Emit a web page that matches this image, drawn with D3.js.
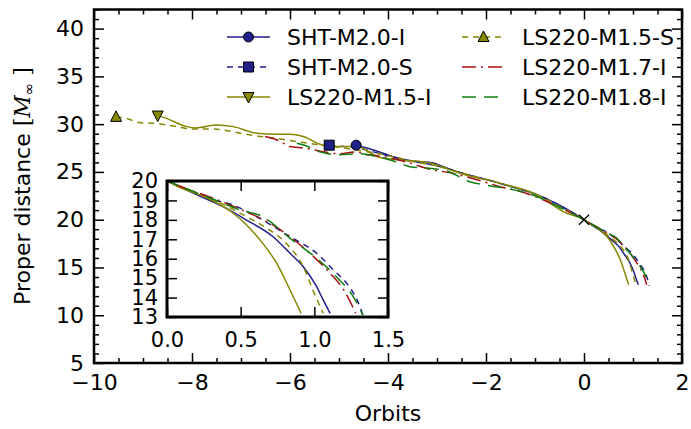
<!DOCTYPE html>
<html>
<head>
<meta charset="utf-8">
<script src="https://cdn.jsdelivr.net/npm/d3@7"></script>
<style>
  html, body { margin: 0; padding: 0; background: #fff; }
  svg { display: block; }
  text { font-family: "DejaVu Sans", sans-serif; fill: #000; }
</style>
</head>
<body>
<svg id="chart" width="691" height="429"></svg>
<script>
// Proper separation of the two stars against number of orbits before merger.
// Each run is a list of [orbits, distance] pairs.
const shtM20I = [[-4.65,27.8],[-4.43,27.5],[-4.1,26.96],[-3.76,26.4],[-3.41,26.08],[-3.1,25.95],[-2.88,25.55],[-2.39,24.7],[-1.99,24.2],[-1.58,23.6],[-1.04,22.77],[-0.49,21.5],[0,20.0],[0.1,19.65],[0.2,19.3],[0.38,18.68],[0.54,17.99],[0.72,17.13],[0.835,16.28],[0.925,15.59],[1.016,14.56],[1.06,13.88],[1.107,13.19]];
const shtM20S = [[-5.2,27.8],[-4.9,27.65],[-4.6,27.5],[-4.3,27.1],[-4.0,26.7],[-3.6,26.2],[-3.2,25.85],[-2.9,25.5],[-2.5,24.9],[-2.0,24.2],[-1.5,23.5],[-1.0,22.7],[-0.5,21.5],[0,20.0],[0.15,19.5],[0.3,19.05],[0.45,18.76],[0.61,18.16],[0.835,17.13],[1.016,16.28],[1.13,15.42],[1.22,14.73],[1.29,13.88],[1.33,13.1]];
const ls220M15I = [[-8.7,30.9],[-8.52,30.6],[-8.11,29.74],[-7.92,29.6],[-7.5,29.9],[-7.16,29.74],[-6.68,29.05],[-6.27,28.95],[-6.0,28.95],[-5.73,28.7],[-5.33,27.8],[-5.04,27.65],[-4.64,27.65],[-4.16,26.5],[-3.76,26.26],[-3.2,26.0],[-2.53,24.86],[-1.71,23.8],[-1.03,22.77],[-0.35,20.67],[0,20.0],[0.1,19.62],[0.25,19.2],[0.45,18.34],[0.54,17.74],[0.65,16.79],[0.745,15.76],[0.835,14.39],[0.91,13.19]];
const ls220M15S = [[-9.55,30.76],[-9.34,30.6],[-9.06,30.15],[-8.8,30.1],[-8.31,29.74],[-8.04,29.5],[-7.7,29.5],[-7.37,29.4],[-7.02,29.05],[-6.68,28.77],[-6.27,28.5],[-5.73,28.07],[-5.33,27.8],[-4.9,27.5],[-4.4,27.1],[-4.0,26.7],[-3.5,26.1],[-3.0,25.6],[-2.5,24.9],[-2.0,24.2],[-1.5,23.5],[-1.0,22.7],[-0.5,21.4],[0,20.0],[0.15,19.55],[0.3,19.1],[0.54,18.16],[0.677,17.57],[0.81,16.79],[0.925,15.59],[0.99,14.39],[1.06,13.19]];
const ls220M17I = [[-6.51,28.7],[-6.2,28.2],[-6.0,27.65],[-5.7,27.5],[-5.4,27.2],[-5.0,26.9],[-4.64,27.1],[-4.43,26.8],[-4.1,26.6],[-3.6,26.0],[-3.08,25.2],[-2.87,25.03],[-2.4,24.5],[-1.71,23.45],[-1.2,22.8],[-0.5,21.3],[0,20.0],[0.15,19.55],[0.3,19.15],[0.43,18.76],[0.56,18.34],[0.7,17.82],[0.835,17.13],[0.97,16.28],[1.107,15.25],[1.2,14.39],[1.265,13.45],[1.28,13.2]];
const ls220M18I = [[-5.86,28.0],[-5.6,27.6],[-5.39,27.1],[-4.98,26.8],[-4.6,26.9],[-4.2,26.6],[-3.8,26.0],[-3.55,25.55],[-3.21,25.4],[-2.8,25.1],[-2.33,23.98],[-1.99,23.6],[-1.5,23.2],[-1.0,22.5],[-0.5,21.3],[0,20.0],[0.15,19.55],[0.3,19.1],[0.5,18.5],[0.65,18.16],[0.835,17.05],[1.016,16.02],[1.15,15.07],[1.265,14.04],[1.33,13.1]];

const seriesLabels = ["SHT-M2.0-I", "SHT-M2.0-S", "LS220-M1.5-I", "LS220-M1.5-S", "LS220-M1.7-I", "LS220-M1.8-I"];
const seriesData = [shtM20I, shtM20S, ls220M15I, ls220M15S, ls220M17I, ls220M18I];
const mergerPoint = [0, 20];

const xTicks = [-10, -8, -6, -4, -2, 0, 2];
const yTicks = [5, 10, 15, 20, 25, 30, 35, 40];
const insetXTicks = [0.0, 0.5, 1.0, 1.5];
const insetYTicks = [13, 14, 15, 16, 17, 18, 19, 20];

// styles for each run
const styles = [
  { color: "#1f1f8a", dash: null,          marker: "circle" },
  { color: "#1f1f8a", dash: "6,5",         marker: "square" },
  { color: "#878700", dash: null,          marker: "triangleDown" },
  { color: "#878700", dash: "6,5",         marker: "triangleUp" },
  { color: "#a81010", dash: "14,5,2,5",    marker: null },
  { color: "#107f10", dash: "14,8",        marker: null }
];

const FONT = 22;
const INSET_FONT = 21;

const svg = d3.select("#chart");

const x = d3.scaleLinear().domain([-10, 2]).range([94, 682]);
const y = d3.scaleLinear().domain([5, 42]).range([363, 9.5]);
const xi = d3.scaleLinear().domain([0, 1.5]).range([167, 388]);
const yi = d3.scaleLinear().domain([13, 20]).range([317, 181]);

const defs = svg.append("defs");
defs.append("clipPath").attr("id", "clipMain").append("rect")
  .attr("x", 94).attr("y", 9.5).attr("width", 588).attr("height", 353.5);
defs.append("clipPath").attr("id", "clipInset").append("rect")
  .attr("x", 167).attr("y", 181).attr("width", 221).attr("height", 136);

function markerPath(kind, size) {
  const s = size;
  if (kind === "circle") return d3.symbol(d3.symbolCircle, Math.PI * s * s / 4)();
  if (kind === "square") return d3.symbol(d3.symbolSquare, s * s)();
  if (kind === "triangleUp") return `M0,${-s*0.6}L${s*0.55},${s*0.45}L${-s*0.55},${s*0.45}Z`;
  if (kind === "triangleDown") return `M0,${s*0.6}L${s*0.55},${-s*0.45}L${-s*0.55},${-s*0.45}Z`;
  return null;
}

function drawCurves(g, sx, sy, clipId, withMarkers) {
  const line = d3.line().x(d => sx(d[0])).y(d => sy(d[1])).curve(d3.curveMonotoneX);
  const layer = g.append("g").attr("clip-path", `url(#${clipId})`);
  seriesData.forEach((data, i) => {
    layer.append("path")
      .datum(data)
      .attr("d", line)
      .attr("fill", "none")
      .attr("stroke", styles[i].color)
      .attr("stroke-width", 1.5)
      .attr("stroke-dasharray", styles[i].dash);
  });
  if (withMarkers) {
    seriesData.forEach((data, i) => {
      const mk = markerPath(styles[i].marker, 10);
      if (!mk) return;
      layer.append("path")
        .attr("d", mk)
        .attr("transform", `translate(${sx(data[0][0])},${sy(data[0][1])})`)
        .attr("fill", styles[i].color)
        .attr("stroke", "#000")
        .attr("stroke-width", 1);
    });
    // merger reference point
    const cx = sx(mergerPoint[0]), cy = sy(mergerPoint[1]);
    layer.append("path")
      .attr("d", `M${cx-5},${cy+5}L${cx+5},${cy-5}M${cx-5},${cy-5}L${cx+5},${cy+5}`)
      .attr("stroke", "#000").attr("stroke-width", 1.3);
  }
}

function styleAxis(g) {
  g.select(".domain").remove();
  g.selectAll(".tick line").attr("stroke", "#000").attr("stroke-width", 1.5);
}

// ---------- main panel ----------
const main = svg.append("g");
drawCurves(main, x, y, "clipMain", true);

const fmtInt = d3.format("d");
const xMinor = d3.range(-10, 2.01, 0.5).filter(v => !xTicks.includes(v));
const yMinor = d3.range(5, 42.01, 1).filter(v => !yTicks.includes(v));

[[d3.axisBottom, 363, true], [d3.axisTop, 9.5, false]].forEach(([ax, pos, labels]) => {
  main.append("g").attr("transform", `translate(0,${pos})`)
    .call(ax(x).tickValues(xTicks).tickSize(-10).tickPadding(11)
      .tickFormat(labels ? fmtInt : () => ""))
    .call(styleAxis)
    .call(g => g.selectAll("text").attr("font-size", FONT).attr("font-family", "DejaVu Sans"));
  main.append("g").attr("transform", `translate(0,${pos})`)
    .call(ax(x).tickValues(xMinor).tickSize(-5).tickFormat(() => ""))
    .call(styleAxis);
});
[[d3.axisLeft, 94, true], [d3.axisRight, 682, false]].forEach(([ax, pos, labels]) => {
  main.append("g").attr("transform", `translate(${pos},0)`)
    .call(ax(y).tickValues(yTicks).tickSize(-10).tickPadding(10)
      .tickFormat(labels ? fmtInt : () => ""))
    .call(styleAxis)
    .call(g => g.selectAll("text").attr("font-size", FONT).attr("font-family", "DejaVu Sans"));
  main.append("g").attr("transform", `translate(${pos},0)`)
    .call(ax(y).tickValues(yMinor).tickSize(-5).tickFormat(() => ""))
    .call(styleAxis);
});

main.append("rect")
  .attr("x", 94).attr("y", 9.5).attr("width", 588).attr("height", 353.5)
  .attr("fill", "none").attr("stroke", "#000").attr("stroke-width", 2.5);

// axis titles
svg.append("text")
  .attr("x", 388).attr("y", 421)
  .attr("text-anchor", "middle")
  .attr("font-size", FONT)
  .text("Orbits");

const yl = svg.append("text")
  .attr("transform", "translate(30,186) rotate(-90)")
  .attr("text-anchor", "middle")
  .attr("font-size", FONT);
yl.append("tspan").text("Proper distance ");
yl.append("tspan").attr("font-family", "DejaVu Serif").text("[");
yl.append("tspan").attr("font-family", "DejaVu Serif").attr("font-style", "italic").text("M");
yl.append("tspan").attr("font-family", "DejaVu Sans").attr("font-size", 15).attr("dy", 4).text("∞");
yl.append("tspan").attr("font-family", "DejaVu Serif").attr("dy", -4).text(" ]");

// ---------- legend ----------
const legend = svg.append("g");
const legendCols = [227, 462];
const legendRows = [37, 67, 97];
seriesLabels.forEach((label, i) => {
  const col = Math.floor(i / 3), row = i % 3;
  const lx = legendCols[col], ly = legendRows[row];
  const st = styles[i];
  legend.append("line")
    .attr("x1", lx).attr("x2", lx + 43).attr("y1", ly).attr("y2", ly)
    .attr("stroke", st.color).attr("stroke-width", 1.5)
    .attr("stroke-dasharray", st.dash);
  const mk = markerPath(st.marker, 10);
  if (mk) {
    legend.append("path").attr("d", mk)
      .attr("transform", `translate(${lx + 21.5},${ly})`)
      .attr("fill", st.color).attr("stroke", "#000").attr("stroke-width", 1);
  }
  legend.append("text")
    .attr("x", lx + 60).attr("y", ly + 8)
    .attr("font-size", FONT)
    .text(label);
});

// ---------- inset: zoom on the last orbits ----------
const inset = svg.append("g");
inset.append("rect")
  .attr("x", 167).attr("y", 181).attr("width", 221).attr("height", 136)
  .attr("fill", "#fff");
drawCurves(inset, xi, yi, "clipInset", false);

const fmtInset = d3.format(".1f");
[[d3.axisBottom, 317, true], [d3.axisTop, 181, false]].forEach(([ax, pos, labels]) => {
  inset.append("g").attr("transform", `translate(0,${pos})`)
    .call(ax(xi).tickValues(insetXTicks).tickSize(-10).tickPadding(15)
      .tickFormat(labels ? fmtInset : () => ""))
    .call(styleAxis)
    .call(g => g.selectAll("text").attr("font-size", INSET_FONT).attr("font-family", "DejaVu Sans"));
});
[[d3.axisLeft, 167, true], [d3.axisRight, 388, false]].forEach(([ax, pos, labels]) => {
  inset.append("g").attr("transform", `translate(${pos},0)`)
    .call(ax(yi).tickValues(insetYTicks).tickSize(-10).tickPadding(9)
      .tickFormat(labels ? fmtInt : () => ""))
    .call(styleAxis)
    .call(g => g.selectAll("text").attr("font-size", INSET_FONT).attr("font-family", "DejaVu Sans"));
});
inset.append("rect")
  .attr("x", 167).attr("y", 181).attr("width", 221).attr("height", 136)
  .attr("fill", "none").attr("stroke", "#000").attr("stroke-width", 3);
</script>
</body>
</html>
